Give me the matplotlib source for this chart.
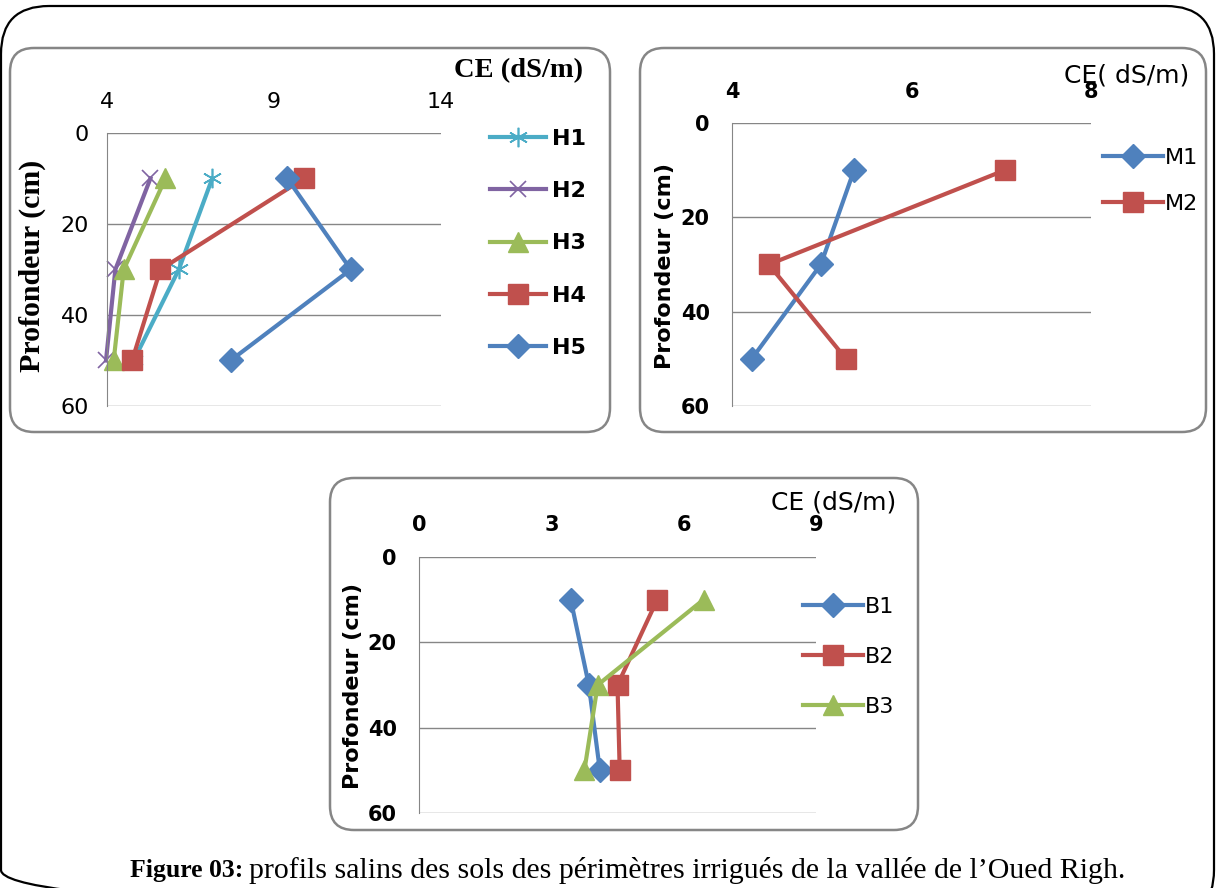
import matplotlib.pyplot as plt
from matplotlib.patches import FancyBboxPatch

# depths of the three samples (cm)
depth = [10, 30, 50]

# CE values (dS/m)
H1 = [7.15, 6.15, 4.8]
H2 = [5.3, 4.25, 3.97]
H3 = [5.75, 4.5, 4.2]
H4 = [9.9, 5.6, 4.75]
H5 = [9.4, 11.3, 7.7]

M1 = [5.36, 4.99, 4.22]
M2 = [7.04, 4.41, 5.27]

B1 = [3.44, 3.85, 4.1]
B2 = [5.4, 4.5, 4.55]
B3 = [6.45, 4.05, 3.75]

depth_ticks = [0, 20, 40, 60]
ticks_h = [4, 9, 14]
ticks_m = [4, 6, 8]
ticks_b = [0, 3, 6, 9]

BLUE = '#4F81BD'
RED = '#C0504D'
GREEN = '#9BBB59'
PURPLE = '#8064A2'
AQUA = '#4BACC6'
GRID = '#868686'

W, H = 1216, 888
SERIF = 'Liberation Serif'
SANS = 'DejaVu Sans'

fig = plt.figure(figsize=(W / 100, H / 100), dpi=100)

# background axes in pixel units for frames and free text
bg = fig.add_axes([0, 0, 1, 1])
bg.set_xlim(0, W)
bg.set_ylim(H, 0)
bg.axis('off')


def add_ax(x0, y0, x1, y1):
    return fig.add_axes([x0 / W, 1 - y1 / H, (x1 - x0) / W, (y1 - y0) / H])


def frame(x0, y0, x1, y1, r, color, lw):
    p = FancyBboxPatch((x0, y0), x1 - x0, y1 - y0,
                       boxstyle='round,pad=0,rounding_size=%d' % r,
                       fc='none', ec=color, lw=lw, clip_on=False)
    bg.add_patch(p)


def setup(ax, xlim, xticks, xpad, ypad, tick_size, tick_weight):
    ax.set_xlim(xlim)
    ax.set_ylim(60, 0)
    ax.set_xticks(xticks)
    ax.set_yticks(depth_ticks)
    ax.xaxis.tick_top()
    ax.tick_params(axis='x', length=0, pad=xpad)
    ax.tick_params(axis='y', length=0, pad=ypad)
    ax.grid(axis='y', color=GRID, lw=1)
    ax.set_axisbelow(True)
    for s in ['top', 'right', 'bottom']:
        ax.spines[s].set_visible(False)
    ax.spines['left'].set_color(GRID)
    for lab in ax.get_xticklabels() + ax.get_yticklabels():
        lab.set_fontsize(tick_size)
        lab.set_fontfamily(SANS)
        lab.set_fontweight(tick_weight)


def series(ax, x, color, marker, ms, mew=1.0):
    ax.plot(x, depth, color=color, lw=3, marker=marker, ms=ms,
            mfc=color, mec=color, mew=mew, clip_on=False)


# outer frame and panel frames
frame(1, 6, 1214, 918, 48, 'black', 1.6)
frame(10, 48, 610, 432, 24, GRID, 1.8)
frame(640, 48, 1206, 432, 24, GRID, 1.8)
frame(330, 478, 918, 830, 24, GRID, 1.8)

# ---- panel H ----
ax1 = add_ax(107, 133, 441, 406)
setup(ax1, (4, 14), ticks_h, 15, 13, 16, 'normal')
series(ax1, H1, AQUA, (6, 2, 0), 14, mew=1.2)
series(ax1, H2, PURPLE, 'x', 11, mew=1.2)
series(ax1, H3, GREEN, '^', 14)
series(ax1, H4, RED, 's', 14)
series(ax1, H5, BLUE, 'D', 12)
ax1.legend(['H1', 'H2', 'H3', 'H4', 'H5'], loc='upper left',
           bbox_to_anchor=(490, 129), bbox_transform=bg.transData,
           frameon=False, borderpad=0, borderaxespad=0,
           handlelength=2.5, handletextpad=0.3, labelspacing=1.45,
           prop={'family': SANS, 'weight': 'bold', 'size': 16})
bg.text(518, 71, 'CE (dS/m)', fontsize=20.5, fontfamily=SERIF, fontweight='bold',
        ha='center', va='center')
bg.text(32, 266, 'Profondeur (cm)', fontsize=21.5, fontfamily=SERIF, fontweight='bold',
        ha='center', va='center', rotation=90)

# ---- panel M ----
ax2 = add_ax(732, 123, 1091, 406)
setup(ax2, (4, 8), ticks_m, 15, 16, 15, 'bold')
series(ax2, M1, BLUE, 'D', 12)
series(ax2, M2, RED, 's', 15)
ax2.legend(['M1', 'M2'], loc='upper left',
           bbox_to_anchor=(1103, 148), bbox_transform=bg.transData,
           frameon=False, borderpad=0, borderaxespad=0,
           handlelength=2.7, handletextpad=0.1, labelspacing=1.15,
           prop={'family': SANS, 'size': 16})
bg.text(1127, 75, 'CE( dS/m)', fontsize=18, fontfamily=SANS,
        ha='center', va='center')
bg.text(665, 266, 'Profondeur (cm)', fontsize=16, fontfamily=SANS, fontweight='bold',
        ha='center', va='center', rotation=90)

# ---- panel B ----
ax3 = add_ax(419, 557, 816, 813)
setup(ax3, (0, 9), ticks_b, 16, 16, 15, 'bold')
series(ax3, B1, BLUE, 'D', 12)
series(ax3, B2, RED, 's', 14)
series(ax3, B3, GREEN, '^', 15)
ax3.legend(['B1', 'B2', 'B3'], loc='upper left',
           bbox_to_anchor=(803, 597), bbox_transform=bg.transData,
           frameon=False, borderpad=0, borderaxespad=0,
           handlelength=2.7, handletextpad=0.1, labelspacing=1.35,
           prop={'family': SANS, 'size': 16})
bg.text(834, 502, 'CE (dS/m)', fontsize=18, fontfamily=SANS,
        ha='center', va='center')
bg.text(353, 686, 'Profondeur (cm)', fontsize=16, fontfamily=SANS, fontweight='bold',
        ha='center', va='center', rotation=90)

# caption
bg.text(243, 870, 'Figure 03:', fontsize=18.5, fontfamily=SERIF, fontweight='bold',
        ha='right', va='center')
bg.text(249, 870, 'profils salins des sols des périmètres irrigués de la vallée de l\u2019Oued Righ.',
        fontsize=21.5, fontfamily=SERIF, ha='left', va='center')

fig.savefig('out.png', dpi=100)
